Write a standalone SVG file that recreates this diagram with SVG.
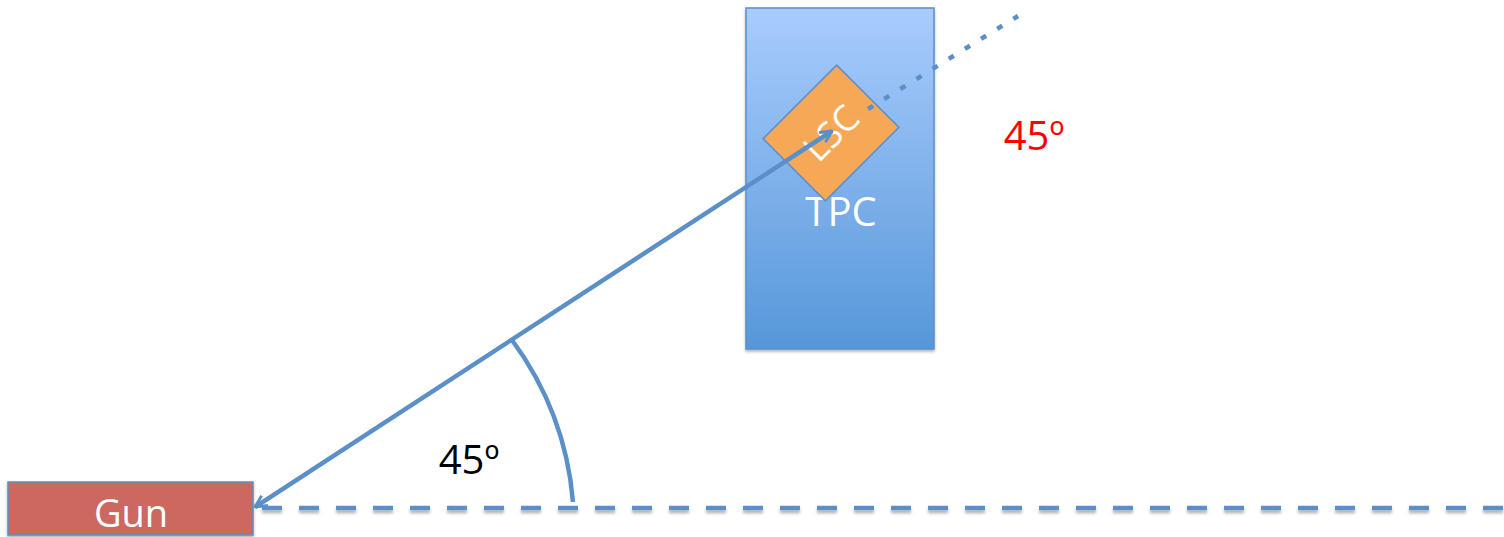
<svg xmlns="http://www.w3.org/2000/svg" width="1504" height="537" viewBox="0 0 1504 537">
<defs>
<linearGradient id="tpcg" x1="0" y1="0" x2="0" y2="1">
<stop offset="0" stop-color="#a9ccfd"/>
<stop offset="1" stop-color="#5697d9"/>
</linearGradient>
<filter id="sh" x="-5%" y="-5%" width="110%" height="130%">
<feDropShadow dx="0" dy="2" stdDeviation="1.5" flood-color="#000" flood-opacity="0.3"/>
</filter>
<filter id="lsh" filterUnits="userSpaceOnUse" x="0" y="495" width="1504" height="30">
<feDropShadow dx="0" dy="3" stdDeviation="1.5" flood-color="#000" flood-opacity="0.3"/>
</filter>
<marker id="ah" viewBox="0 0 12 12" refX="11" refY="6" markerWidth="14" markerHeight="14" markerUnits="userSpaceOnUse" orient="auto-start-reverse">
<path d="M1 1 L11 6 L1 11" fill="none" stroke="#5b8fc8" stroke-width="2.5"/>
</marker>
<style>
.ln{stroke:#5b8fc8;stroke-width:4.5;fill:none}
.t{font-family:"Open Sans","Liberation Sans",sans-serif}
</style>
</defs>
<g id="tpc">
<rect x="746" y="8" width="188" height="341" fill="url(#tpcg)" stroke="#5b8fc8" stroke-width="1.5" filter="url(#sh)"/>
<text class="t" x="841" y="226" font-size="40" fill="#fff" text-anchor="middle">TPC</text>
</g>
<g id="lsc">
<g transform="translate(831,133) rotate(-45)">
<rect x="-52" y="-44" width="104" height="88" fill="#f7a857" stroke="#5b8fc8" stroke-width="1.5"/>
<text class="t" x="0" y="13" font-size="36" fill="#fff" text-anchor="middle">LSC</text>
</g>
</g>
<g id="gun">
<rect x="8" y="482" width="245" height="53" fill="#cd6760" stroke="#5b8fc8" stroke-width="1.5" filter="url(#sh)"/>
<text class="t" x="131" y="527" font-size="38" fill="#fff" text-anchor="middle">Gun</text>
</g>
<g id="connectors">
<line class="ln" x1="262" y1="508" x2="1504" y2="508" stroke-dasharray="20 17" filter="url(#lsh)"/>
<line class="ln" x1="255" y1="507" x2="832" y2="131" marker-start="url(#ah)" marker-end="url(#ah)"/>
<line class="ln" x1="868" y1="109" x2="1018" y2="16" stroke-dasharray="6 13" stroke-width="6"/>
<path class="ln" d="M512 340 A318 318 0 0 1 573 502"/>
</g>
<g id="labels">
<text class="t" x="469" y="474" font-size="40" fill="#000" text-anchor="middle">45º</text>
<text class="t" x="1034" y="150" font-size="40" fill="#f00" text-anchor="middle">45º</text>
</g>
</svg>
